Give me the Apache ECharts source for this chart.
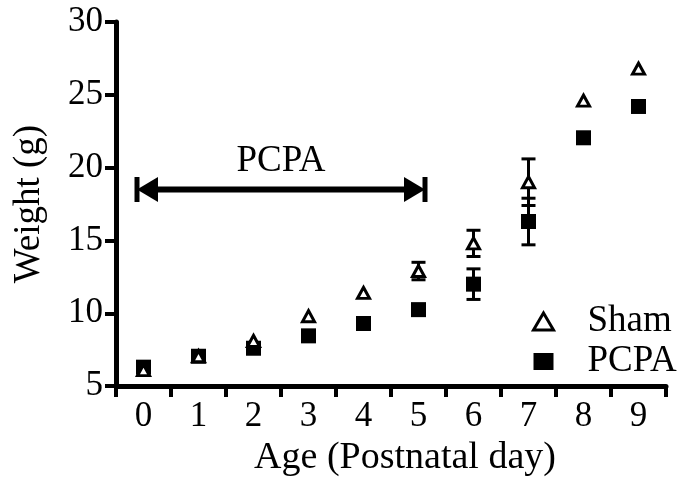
<!DOCTYPE html>
<html>
<head>
<meta charset="utf-8">
<script src="https://cdn.jsdelivr.net/npm/echarts@6/dist/echarts.min.js"></script>
<style>
  html, body { margin: 0; padding: 0; background: #fff; }
  #chart { width: 678px; height: 482px; }
</style>
</head>
<body>
<div id="chart"></div>
<script>
// 体重随日龄变化（Sham vs PCPA）
var days = ['0', '1', '2', '3', '4', '5', '6', '7', '8', '9'];
var shamMean = [6.1, 7.05, 8.1, 9.8, 11.4, 12.9, 14.8, 19.0, 24.6, 26.8];
var shamErr = [0, 0, 0, 0, 0, 0.6, 0.9, 1.6, 0, 0];
var pcpaMean = [6.3, 7.05, 7.6, 8.45, 9.3, 10.25, 12.0, 16.3, 22.05, 24.2];
var pcpaErr = [0, 0, 0, 0, 0, 0.25, 1.05, 1.6, 0.3, 0.3];
var yTicks = [5, 10, 15, 20, 25, 30];
// 给药期：第0天至第5天
var treatDays = [0, 5];
var treatLevel = 18.5;

var FONT = "'Liberation Serif', 'Times New Roman', serif";

function errData(mean, err) {
    var out = [];
    for (let i = 0; i < mean.length; i++) {
        if (err[i] > 0) out.push([i, mean[i] - err[i], mean[i] + err[i]]);
    }
    return out;
}

function renderErr(params, api) {
    var x = api.value(0);
    var top = api.coord([x, api.value(2)]);
    var bot = api.coord([x, api.value(1)]);
    var cap = 7;
    var style = { stroke: '#000', lineWidth: 3 };
    return {
        type: 'group',
        children: [
            { type: 'line', shape: { x1: top[0], y1: top[1], x2: bot[0], y2: bot[1] }, style: style },
            { type: 'line', shape: { x1: top[0] - cap, y1: top[1], x2: top[0] + cap, y2: top[1] }, style: style },
            { type: 'line', shape: { x1: bot[0] - cap, y1: bot[1], x2: bot[0] + cap, y2: bot[1] }, style: style }
        ]
    };
}

function renderArrow(params, api) {
    var p0 = api.coord([api.value(0), api.value(2)]);
    var p1 = api.coord([api.value(1), api.value(2)]);
    var x0 = p0[0] - 6.5, x1 = p1[0] + 6.5, y = p0[1];
    var head = 21, hh = 12.5;
    return {
        type: 'group',
        children: [
            { type: 'rect', shape: { x: x0 + head - 1, y: y - 3, width: x1 - x0 - 2 * head + 2, height: 6 }, style: { fill: '#000' } },
            { type: 'polygon', shape: { points: [[x0, y], [x0 + head, y - hh], [x0 + head, y + hh]] }, style: { fill: '#000' } },
            { type: 'polygon', shape: { points: [[x1, y], [x1 - head, y - hh], [x1 - head, y + hh]] }, style: { fill: '#000' } },
            { type: 'rect', shape: { x: x0 - 2.5, y: y - hh, width: 5, height: 2 * hh }, style: { fill: '#000' } },
            { type: 'rect', shape: { x: x1 - 2.5, y: y - hh, width: 5, height: 2 * hh }, style: { fill: '#000' } },
            {
                type: 'text',
                style: {
                    x: (x0 + x1) / 2, y: y - 28, text: 'PCPA',
                    fill: '#000', font: '37px ' + FONT, align: 'center', verticalAlign: 'middle'
                }
            }
        ]
    };
}

var chart = echarts.init(document.getElementById('chart'));
chart.setOption({
    backgroundColor: '#fff',
    animation: false,
    grid: { left: 116, right: 12, top: 22, bottom: 89 },
    legend: {
        orient: 'vertical',
        left: 527,
        top: 298,
        itemGap: 3,
        itemWidth: 20,
        itemHeight: 17,
        textStyle: { fontSize: 37, fontFamily: FONT, color: '#000', padding: [0, 0, 0, 29] },
        data: [
            { name: 'Sham', icon: 'triangle', itemStyle: { color: '#fff', borderColor: '#000', borderWidth: 3 } },
            { name: 'PCPA', icon: 'rect', itemStyle: { color: '#000', borderWidth: 0 } }
        ]
    },
    xAxis: {
        type: 'category',
        data: days,
        boundaryGap: true,
        name: 'Age (Postnatal day)',
        nameLocation: 'middle',
        nameGap: 39,
        nameTextStyle: { fontSize: 38, fontFamily: FONT, color: '#000', padding: [0, 0, 0, 28] },
        axisLine: { lineStyle: { color: '#000', width: 5 } },
        axisTick: { show: true, interval: 0, length: 11, lineStyle: { color: '#000', width: 4 } },
        axisLabel: { interval: 0, margin: 13, fontSize: 35, fontFamily: FONT, color: '#000' },
        splitLine: { show: false }
    },
    yAxis: {
        type: 'value',
        min: yTicks[0],
        max: yTicks[yTicks.length - 1],
        interval: 5,
        name: 'Weight (g)',
        nameLocation: 'middle',
        nameGap: 68,
        nameTextStyle: { fontSize: 37, fontFamily: FONT, color: '#000' },
        axisLine: { show: true, lineStyle: { color: '#000', width: 5 } },
        axisTick: { show: true, length: 11, lineStyle: { color: '#000', width: 4 } },
        axisLabel: { margin: 13, fontSize: 35, fontFamily: FONT, color: '#000' },
        splitLine: { show: false }
    },
    series: [
        {
            type: 'custom',
            name: 'arrow',
            renderItem: renderArrow,
            data: [[treatDays[0], treatDays[1], treatLevel]],
            encode: { x: [0, 1], y: 2 },
            silent: true,
            z: 1
        },
        {
            type: 'custom',
            name: 'errPCPA',
            renderItem: renderErr,
            data: errData(pcpaMean, pcpaErr),
            encode: { x: 0, y: [1, 2] },
            z: 2
        },
        {
            type: 'custom',
            name: 'errSham',
            renderItem: renderErr,
            data: errData(shamMean, shamErr),
            encode: { x: 0, y: [1, 2] },
            z: 2
        },
        {
            type: 'scatter',
            name: 'PCPA',
            data: pcpaMean,
            symbol: 'rect',
            symbolSize: 15,
            itemStyle: { color: '#000', opacity: 1 },
            z: 3
        },
        {
            type: 'scatter',
            name: 'Sham',
            data: shamMean,
            symbol: 'triangle',
            symbolSize: [12, 11],
            itemStyle: { color: '#fff', borderColor: '#000', borderWidth: 3, opacity: 1 },
            z: 4
        }
    ]
});
</script>
</body>
</html>
